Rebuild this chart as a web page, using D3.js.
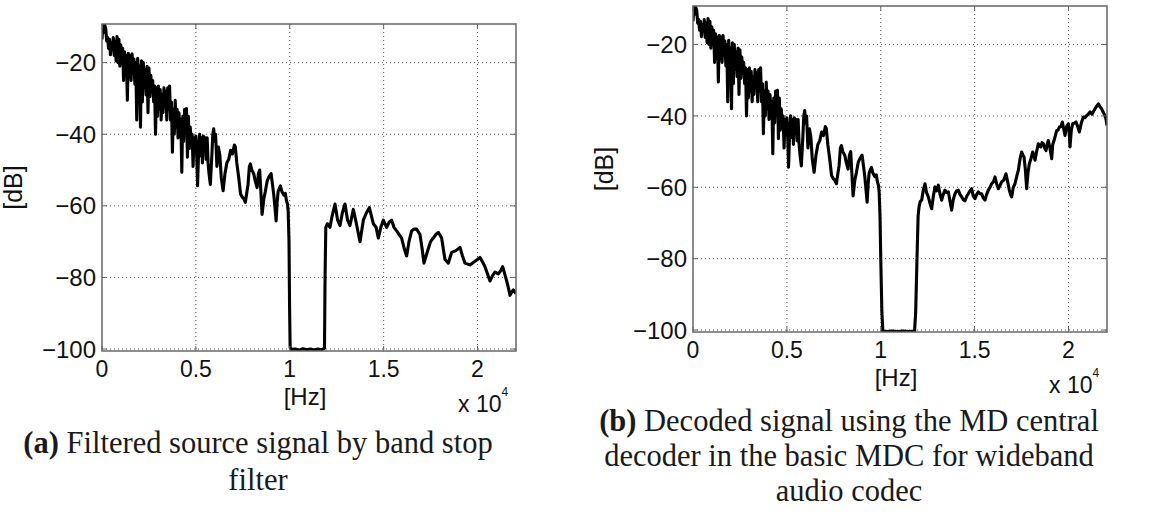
<!DOCTYPE html>
<html>
<head>
<meta charset="utf-8">
<script src="https://cdn.jsdelivr.net/npm/d3@7"></script>
<style>
  body { margin: 0; background: #fff; }
  svg { display: block; }
</style>
</head>
<body>
<div id="chart"></div>
<script>
// x ticks are in Hz, labelled in units of 10^4 Hz
const xTicks = [0, 5000, 10000, 15000, 20000];
const xTickLabels = ["0", "0.5", "1", "1.5", "2"];
const yTicks = [-20, -40, -60, -80, -100];

// [Hz, dB] below the stop band, the same in both panels
const lowBand = [
  [0,-13.5],[50,-9.5],[100,-11.5],[150,-9.6],[200,-10.5],[250,-14],[300,-13],[350,-16],[400,-13.5],[450,-17.8],
  [500,-14.5],[550,-16],[600,-13],[650,-18],[700,-14],[750,-19.5],[800,-12.7],[850,-20],[900,-13.5],[950,-21],
  [1000,-15],[1050,-19],[1100,-16],[1150,-25],[1200,-17],[1250,-22],[1300,-18],[1350,-30.5],[1400,-17.4],[1450,-24],
  [1500,-18],[1550,-25],[1600,-17.5],[1650,-23],[1700,-19],[1750,-26],[1800,-20],[1850,-36],[1900,-18.8],[1950,-25.5],
  [2000,-21],[2050,-38],[2100,-19.5],[2150,-31],[2200,-20],[2250,-27],[2300,-22],[2350,-29],[2400,-21],[2450,-34],
  [2500,-21.5],[2550,-29.5],[2600,-23.5],[2650,-28],[2700,-25],[2750,-31],[2800,-26.5],[2850,-40],[2900,-27],[2950,-35],
  [3000,-26.5],[3050,-33],[3100,-27.5],[3150,-36],[3200,-29],[3250,-34],[3300,-27],[3350,-32],[3400,-28],[3450,-36],
  [3500,-27],[3550,-33],[3600,-26.5],[3650,-36],[3700,-31],[3750,-45],[3800,-33],[3850,-40],[3900,-30.5],[3950,-38],
  [4000,-33],[4050,-41],[4100,-34],[4150,-38],[4200,-36],[4250,-50.6],[4300,-35],[4350,-42],[4400,-33],[4450,-39],
  [4500,-32.8],[4550,-46.4],[4600,-35],[4650,-44],[4700,-38],[4750,-42],[4800,-40],[4850,-49],[4900,-41],[4950,-45],
  [5000,-40.5],[5050,-47],[5090,-54.4],[5150,-44],[5200,-40],[5250,-46],[5300,-41],[5350,-48],[5400,-40.5],[5450,-44],
  [5500,-41],[5550,-47],[5600,-41],[5650,-48],[5700,-51],[5770,-54],[5850,-46],[5900,-40],[5950,-38.5],[6000,-42],
  [6050,-40],[6120,-49],[6200,-43.6],[6280,-46],[6350,-52],[6450,-55.8],[6550,-51],[6650,-48],[6750,-47],[6850,-44.5],
  [6950,-45.5],[7050,-43],[7100,-43.5],[7180,-48],[7280,-52],[7380,-56.7],[7460,-57.5],[7550,-58],[7636,-59],[7720,-56],
  [7780,-54],[7850,-49],[7903,-48.3],[7980,-50],[8081,-51],[8160,-53],[8260,-54.9],[8330,-51],[8400,-50],[8460,-56],
  [8526,-62.4],[8620,-58],[8700,-56],[8800,-53],[8882,-52],[9007,-51],[9080,-54],[9150,-57],[9220,-61],[9274,-64.2],
  [9330,-59],[9380,-56],[9450,-55],[9505,-54.4],[9580,-56],[9683,-57],[9760,-56.5],[9826,-58.6],[9880,-59.5],[9915,-61.4]
];

// (a) filtered source: stop band and upper band
const upperA = [
  [9960,-70],[9990,-88],[10020,-99.6],[10100,-100.1],[10300,-100],[10500,-100.3],[10700,-99.9],[10900,-100.2],
  [11100,-100],[11300,-100.3],[11500,-100],[11700,-100.2],[11850,-99.8],[11880,-80],[11920,-66],[12000,-65],
  [12143,-66],[12250,-63],[12410,-59.5],[12550,-64],[12676,-65.5],[12800,-62],[12942,-59.5],[13080,-64],
  [13208,-65.5],[13386,-61],[13550,-65],[13741,-70],[13919,-64],[14080,-62],[14238,-60.5],[14451,-65],
  [14600,-66],[14717,-69],[14850,-66],[14983,-64],[15161,-66],[15300,-64.5],[15427,-64],[15550,-66],
  [15693,-67],[15820,-68],[15959,-69],[16100,-72],[16225,-74],[16350,-70],[16491,-67],[16620,-66.5],
  [16757,-66.5],[16935,-68],[17050,-72],[17148,-76],[17260,-74],[17379,-72],[17500,-70],[17645,-69],
  [17780,-68],[17911,-67.4],[18089,-69],[18267,-75],[18445,-76],[18622,-73],[18850,-72.5],[19067,-71.6],
  [19200,-74],[19333,-76],[19600,-76.5],[19866,-75.5],[20000,-75],[20132,-74.4],[20300,-76],[20398,-77],
  [20530,-79],[20665,-81],[20800,-79.5],[20931,-78.5],[21109,-79],[21250,-78],[21340,-77],[21450,-79],
  [21553,-81],[21650,-83],[21730,-85],[21830,-84],[21908,-83.5],[22050,-84.5]
];

// (b) decoded signal: stop band and upper band
const upperB = [
  [9960,-68],[10000,-80],[10060,-95],[10110,-100.3],[10300,-100.4],[10600,-100.3],[10900,-100.4],[11200,-100.3],
  [11500,-100.4],[11800,-100.3],[11860,-95],[11930,-80],[11990,-68],[12040,-65.5],[12100,-64],[12180,-63.6],
  [12260,-61],[12357,-59],[12440,-61.5],[12535,-62.7],[12620,-64.5],[12712,-66],[12800,-62.5],[12890,-59.9],
  [12980,-61],[13067,-59.4],[13160,-62],[13245,-63.6],[13330,-62],[13422,-60.8],[13510,-61.5],[13600,-61.3],
  [13690,-64],[13777,-66.4],[13860,-63.5],[13955,-61.8],[14040,-61],[14132,-60.8],[14220,-62],[14310,-62.7],
  [14400,-63.5],[14487,-63.8],[14580,-62.5],[14665,-61.8],[14750,-61],[14842,-60.4],[14930,-62.5],[15020,-63.2],
  [15110,-62],[15197,-61.3],[15290,-61.8],[15375,-61.8],[15460,-63],[15552,-63.6],[15640,-62],[15730,-60.8],
  [15820,-60],[15907,-59],[16000,-58.5],[16085,-57.1],[16170,-59],[16262,-60.4],[16350,-59.5],[16440,-58.5],
  [16550,-58],[16670,-56.2],[16760,-58.5],[16848,-60.8],[16910,-62],[16972,-62.7],[17060,-60],[17150,-59],
  [17240,-57],[17328,-55.2],[17420,-52],[17505,-50.1],[17570,-51],[17630,-51.5],[17700,-55],[17772,-60.4],
  [17840,-56],[17914,-53.4],[18000,-52],[18092,-50.1],[18150,-51],[18216,-52.4],[18300,-50],[18394,-47.8],
  [18450,-48.5],[18518,-48.7],[18590,-47.5],[18660,-47.8],[18730,-49],[18802,-49.7],[18860,-48],[18926,-46.9],
  [19010,-49],[19104,-52],[19160,-48],[19228,-46.9],[19300,-45.5],[19370,-44.1],[19440,-44],[19512,-43.1],
  [19590,-43],[19672,-41.7],[19740,-43.5],[19814,-45.5],[19900,-43],[19992,-42.2],[20040,-45],[20080,-48.7],
  [20150,-44],[20222,-42.2],[20310,-42],[20400,-41.7],[20490,-43],[20577,-44.5],[20680,-42],[20790,-40.3],
  [20880,-40.5],[20968,-39.9],[21050,-39.5],[21145,-38.9],[21250,-39.5],[21358,-38.5],[21470,-37.5],[21589,-36.6],
  [21680,-37.5],[21767,-38],[21850,-39],[21944,-39.9],[22000,-41],[22050,-42.7]
];

const captionA = [["(a)", " Filtered source signal by band stop"], ["", "filter"]];
const captionB = [["(b)", " Decoded signal using the MD central"], ["", "decoder in the basic MDC for wideband"], ["", "audio codec"]];

const width = 1169, height = 516;
const pw = 414;

const svg = d3.select("#chart").append("svg")
    .attr("width", width)
    .attr("height", height);

function drawPanel(id, left, top, ph, data) {
    const x = d3.scaleLinear().domain([0, 22050]).range([0, pw]);
    const y = d3.scaleLinear().domain([-100.55, -9.2]).range([ph, 0]);

    const g = svg.append("g").attr("transform", "translate(" + left + "," + top + ")");

    g.append("clipPath").attr("id", "clip" + id)
        .append("rect").attr("width", pw).attr("height", ph);

    // dotted grid
    g.append("g").selectAll("line")
        .data(xTicks.slice(1))
        .join("line")
        .attr("x1", function(d) { return x(d); }).attr("x2", function(d) { return x(d); })
        .attr("y1", 0).attr("y2", ph)
        .attr("stroke", "#555").attr("stroke-width", 1).attr("stroke-dasharray", "1,3");
    g.append("g").selectAll("line")
        .data(yTicks)
        .join("line")
        .attr("x1", 0).attr("x2", pw)
        .attr("y1", function(d) { return y(d); }).attr("y2", function(d) { return y(d); })
        .attr("stroke", "#555").attr("stroke-width", 1).attr("stroke-dasharray", "1,3");

    // spectrum
    const line = d3.line()
        .x(function(d) { return x(d[0]); })
        .y(function(d) { return y(d[1]); });
    g.append("path")
        .datum(data)
        .attr("clip-path", "url(#clip" + id + ")")
        .attr("d", line)
        .attr("fill", "none")
        .attr("stroke", "#000")
        .attr("stroke-width", 3.1)
        .attr("stroke-linejoin", "round");

    // box and inward ticks
    g.append("rect").attr("width", pw).attr("height", ph)
        .attr("fill", "none").attr("stroke", "#666").attr("stroke-width", 1.5);
    const tk = 5;
    xTicks.forEach(function(v) {
        g.append("line").attr("x1", x(v)).attr("x2", x(v)).attr("y1", ph).attr("y2", ph - tk).attr("stroke", "#666");
        g.append("line").attr("x1", x(v)).attr("x2", x(v)).attr("y1", 0).attr("y2", tk).attr("stroke", "#666");
    });
    yTicks.forEach(function(v) {
        g.append("line").attr("x1", 0).attr("x2", tk).attr("y1", y(v)).attr("y2", y(v)).attr("stroke", "#666");
        g.append("line").attr("x1", pw).attr("x2", pw - tk).attr("y1", y(v)).attr("y2", y(v)).attr("stroke", "#666");
    });

    // tick labels
    const font = "'Liberation Sans', Arial, sans-serif";
    g.append("g").selectAll("text")
        .data(xTicks)
        .join("text")
        .attr("x", function(d) { return x(d); })
        .attr("y", ph + 26)
        .attr("text-anchor", "middle")
        .attr("font-family", font).attr("font-size", 23).attr("fill", "#111")
        .text(function(d, i) { return xTickLabels[i]; });
    g.append("g").selectAll("text")
        .data(yTicks)
        .join("text")
        .attr("x", -6)
        .attr("y", function(d) { return y(d); })
        .attr("dy", "0.36em")
        .attr("text-anchor", "end")
        .attr("font-family", font).attr("font-size", 24).attr("fill", "#111")
        .text(function(d) { return "\u2212" + Math.abs(d); });

    g.append("text")
        .attr("x", pw / 2 - 4).attr("y", ph + 54)
        .attr("text-anchor", "middle")
        .attr("font-family", font).attr("font-size", 24).attr("fill", "#111")
        .text("[Hz]");
    const ex = g.append("text")
        .attr("x", pw - 58).attr("y", ph + 61)
        .attr("font-family", font).attr("font-size", 23).attr("fill", "#111");
    ex.append("tspan").text("x 10");
    ex.append("tspan").attr("dy", -16).attr("font-size", 12).text("4");

    g.append("text")
        .attr("transform", "translate(" + (-80) + "," + (ph / 2) + ") rotate(-90)")
        .attr("text-anchor", "middle")
        .attr("font-family", font).attr("font-size", 25).attr("fill", "#111")
        .text("[dB]");
}

drawPanel("a", 102, 24, 327, lowBand.concat(upperA));
drawPanel("b", 693, 6, 326, lowBand.concat(upperB));

function caption(lines, cx, y0, lh) {
    lines.forEach(function(l, i) {
        const t = svg.append("text")
            .attr("x", cx).attr("y", y0 + i * lh)
            .attr("text-anchor", "middle")
            .attr("font-family", "'Liberation Serif', 'Times New Roman', serif")
            .attr("font-size", 30.5).attr("fill", "#1a1a1a");
        if (l[0]) t.append("tspan").attr("font-weight", "bold").text(l[0]);
        t.append("tspan").text(l[1]);
    });
}

caption(captionA, 258, 453, 37);
caption(captionB, 849, 431, 35);
</script>
</body>
</html>
